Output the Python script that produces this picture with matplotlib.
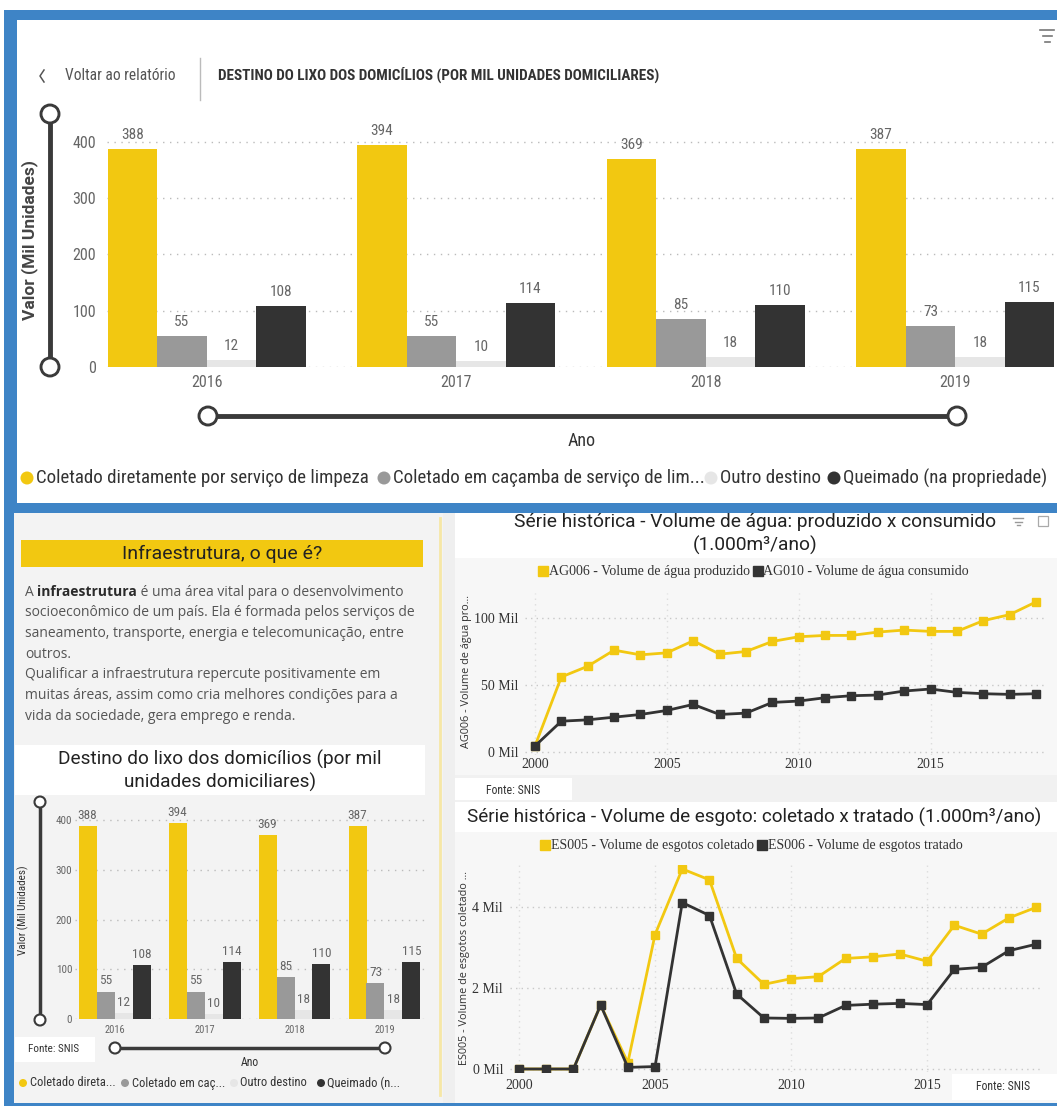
import matplotlib
matplotlib.use('Agg')
import matplotlib.pyplot as plt
from matplotlib import font_manager as fm
from matplotlib.patches import Rectangle, Circle
from matplotlib.ticker import FuncFormatter

# ---------------- data ----------------
bar_years = ['2016', '2017', '2018', '2019']
coletado_direto = [388, 394, 369, 387]
coletado_cacamba = [55, 55, 85, 73]
outro_destino = [12, 10, 18, 18]
queimado = [108, 114, 110, 115]
bar_names_full = ['Coletado diretamente por serviço de limpeza',
                  'Coletado em caçamba de serviço de lim...',
                  'Outro destino', 'Queimado (na propriedade)']
bar_names_short = ['Coletado direta...', 'Coletado em caç...',
                   'Outro destino', 'Queimado (n...']
bar_yticks = [0, 100, 200, 300, 400]

anos = list(range(2000, 2020))
ag006 = [4.5, 56, 64, 76, 72.5, 74, 83, 73, 75, 82.5, 86, 87, 87, 89.5, 91, 90, 90, 98, 102.5, 112]
ag010 = [4.5, 23, 24, 26, 28, 31, 35.5, 28, 29, 37, 38, 40.5, 42, 42.5, 45.5, 47, 44.5, 43.5, 43, 43.5]
es005 = [0, 0, 0, 1.58, 0.16, 3.32, 4.94, 4.67, 2.73, 2.09, 2.23, 2.28, 2.73, 2.77, 2.84, 2.66, 3.55, 3.33, 3.73, 3.99]
es006 = [0, 0, 0, 1.58, 0.04, 0.06, 4.11, 3.79, 1.85, 1.26, 1.25, 1.26, 1.57, 1.60, 1.62, 1.59, 2.46, 2.51, 2.92, 3.08]
line_xticks = [2000, 2005, 2010, 2015]
ag_yticks = [0, 50, 100]
es_yticks = [0, 2, 4]

# ---------------- style ----------------
YEL = '#F2C811'
GRY = '#999999'
LGT = '#E6E6E6'
DRK = '#333333'
BLUE = '#3E84C6'


def _weights(fam):
    ws = set()
    for f in fm.fontManager.ttflist:
        if f.name == fam and f.style == 'normal':
            w = f.weight
            if isinstance(w, str):
                w = {'bold': 700, 'normal': 400, 'regular': 400}.get(w, 400)
            ws.add(int(w))
    return ws


def pick_family(cands):
    for c in cands:
        ws = _weights(c)
        if any(w <= 500 for w in ws) and any(w >= 600 for w in ws):
            return c
    return 'DejaVu Sans'


COND = ['Roboto Condensed', 'Liberation Sans Narrow', 'Roboto', 'DejaVu Sans']
TITLE = ['Roboto', 'DejaVu Sans']
SEGOE_FAM = pick_family(['Noto Sans', 'Open Sans', 'Lato', 'Roboto', 'DejaVu Sans'])
SEGOE = [SEGOE_FAM, 'DejaVu Sans']
BOLDLAB = [pick_family(['Roboto', 'Open Sans', 'Noto Sans', 'DejaVu Sans']), 'DejaVu Sans']
SERIF = ['Liberation Serif', 'DejaVu Serif']
plt.rcParams['font.family'] = COND

W, H, DPI = 1057, 1106, 100
fig = plt.figure(figsize=(W / DPI, H / DPI), dpi=DPI)
fig.patch.set_facecolor('white')

bg = fig.add_axes([0, 0, 1, 1])
bg.set_xlim(0, W)
bg.set_ylim(H, 0)
bg.axis('off')


def rect(x0, y0, x1, y1, color, z=0):
    bg.add_patch(Rectangle((x0, y0), x1 - x0, y1 - y0, facecolor=color,
                           edgecolor='none', zorder=z))


def px_axes(x0, y0, x1, y1):
    a = fig.add_axes([x0 / W, 1 - y1 / H, (x1 - x0) / W, (y1 - y0) / H])
    a.set_facecolor('none')
    for s in a.spines.values():
        s.set_visible(False)
    return a


def slider(x0, y0, x1, y1, r, lw):
    bg.plot([x0, x1], [y0, y1], color='#3a3a3a', lw=lw, solid_capstyle='butt', zorder=3)
    for (x, y) in [(x0, y0), (x1, y1)]:
        bg.add_patch(Circle((x, y), r, facecolor='white', edgecolor='#3a3a3a',
                            lw=lw * 0.6, zorder=4))


# ---------------- frame ----------------
rect(4, 10, W, 20, BLUE)          # top band
rect(4, 10, 17, 503, BLUE)        # left strip top panel
rect(4, 503, W, 513, BLUE)        # middle band
rect(4, 513, 14, H, BLUE)         # left strip bottom
rect(4, 1103, W, H, BLUE)         # bottom band

# bottom panels backgrounds
rect(14, 513, 443, 1103, '#F3F3F3')
rect(443, 513, 455, 1103, '#EFEFEF')
rect(455, 513, W, 558, 'white')
rect(455, 558, W, 775, '#F7F7F7')
rect(455, 775, W, 802, '#F1F1F1')
rect(455, 778, 572, 800, 'white')
rect(455, 802, W, 832, 'white')
rect(455, 832, W, 1103, '#F7F7F7')
rect(952, 1074, W, 1100, 'white', z=1)
bg.plot([440, 440], [518, 1095], color='#F6E7A6', lw=2, zorder=2)

# ---------------- header of top panel ----------------
bg.plot([44, 40, 44], [70, 76, 82], color='#555555', lw=1.1, zorder=3)
bg.text(65, 76, 'Voltar ao relatório', fontsize=11.2, color='#555555', va='center', ha='left')
bg.plot([200, 200], [58, 100], color='#BBBBBB', lw=1, zorder=3)
bg.text(218, 75, 'DESTINO DO LIXO DOS DOMICÍLIOS (POR MIL UNIDADES DOMICILIARES)',
        fontsize=10.9, fontweight='bold', color='#333333', va='center', ha='left')
for (yy, hw) in [(30, 7), (36, 4.5), (42, 2.5)]:
    bg.plot([1047 - hw, 1047 + hw], [yy, yy], color='#777777', lw=1.2, zorder=3)

# ---------------- bar charts ----------------
series = [coletado_direto, coletado_cacamba, outro_destino, queimado]
colors = [YEL, GRY, LGT, DRK]


def bar_chart(ax, c0, sp, x0, x1, y0px, ytop, ppu, bw, lab_fs, lab_pad, tick_fs, xtick_fs,
              ypad, xpad):
    ax.set_xlim((x0 - c0) / sp, (x1 - c0) / sp)
    ax.set_ylim(0, (y0px - ytop) / ppu)
    idx = list(range(len(bar_years)))
    for i, (vals, col) in enumerate(zip(series, colors)):
        pos = [k + (i - 1.5) * bw for k in idx]
        bars = ax.bar(pos, vals, width=bw, color=col, zorder=3)
        ax.bar_label(bars, padding=lab_pad, fontsize=lab_fs, color='#666666')
    ax.set_yticks(bar_yticks)
    ax.set_xticks(idx)
    ax.set_xticklabels(bar_years)
    ax.tick_params(axis='y', length=0, pad=ypad, labelsize=tick_fs, labelcolor='#666666')
    ax.tick_params(axis='x', length=0, pad=xpad, labelsize=xtick_fs, labelcolor='#666666')
    ax.yaxis.grid(True, linestyle=(0, (1, 4)), color='#BBBBBB', lw=1)
    ax.set_axisbelow(True)


ax1 = px_axes(107, 122, 1057, 367)
bar_chart(ax1, 206.5, 249.6, 107, 1057, 367, 122, 0.5625, 49.5 / 249.6, 11, 5, 11.5, 11.5, 8, 6)

bg.text(30, 240, 'Valor (Mil Unidades)', rotation=90, family=BOLDLAB, fontsize=12.5,
        fontweight='bold', color='#444444', ha='center', va='center')
slider(50, 114, 50, 367, 9, 3.5)
slider(208, 416, 957, 416, 9, 3.5)
bg.text(582, 441, 'Ano', fontsize=13, color='#333333', ha='center', va='center')

leg_x = [(27, 36), (384, 393), (711, 720), (834, 843)]
for (cx, tx), col, name in zip(leg_x, colors, bar_names_full):
    bg.add_patch(Circle((cx, 478), 6.5, facecolor=col, edgecolor='none', zorder=3))
    bg.text(tx, 478, name, fontsize=13.6, color='#333333', ha='left', va='center')

# ---------------- bottom-left text ----------------
rect(21, 540, 423, 567, YEL, z=1)
bg.text(222, 554, 'Infraestrutura, o que é?', family=TITLE, fontsize=14, color='#222222',
        ha='center', va='center', zorder=3)

para_font = dict(family=SEGOE, fontsize=10, color='#555555')
t0 = bg.text(25, 592, 'A ', va='center', ha='left', **para_font)
t1 = bg.annotate('infraestrutura', xy=(1, 0), xycoords=t0, va='bottom', ha='left',
                 family=SEGOE, fontsize=10, color='#2A2A2A', fontweight='bold')
bg.annotate(' é uma área vital para o desenvolvimento', xy=(1, 0), xycoords=t1,
            va='bottom', ha='left', **para_font)
para_lines = ['socioeconômico de um país. Ela é formada pelos serviços de',
              'saneamento, transporte, energia e telecomunicação, entre',
              'outros.',
              'Qualificar a infraestrutura repercute positivamente em',
              'muitas áreas, assim como cria melhores condições para a',
              'vida da sociedade, gera emprego e renda.']
for k, ln in enumerate(para_lines):
    bg.text(25, 592 + 20.7 * (k + 1), ln, va='center', ha='left', **para_font)

# ---------------- bottom-left bar chart ----------------
rect(15, 745, 425, 795, 'white', z=1)
bg.text(220, 759, 'Destino do lixo dos domicílios (por mil', family=TITLE, fontsize=13.7,
        color='#222222', ha='center', va='center', zorder=3)
bg.text(220, 782, 'unidades domiciliares)', family=TITLE, fontsize=13.7, color='#222222',
        ha='center', va='center', zorder=3)

ax2 = px_axes(75, 805, 425, 1019)
bar_chart(ax2, 114.5, 90, 75, 425, 1019, 805, 0.4975, 0.2, 9.5, 3, 8, 7.5, 2, 4)

bg.text(23, 910, 'Valor (Mil Unidades)', rotation=90, fontsize=8, color='#333333',
        ha='center', va='center')
slider(40, 802, 40, 1020, 5.5, 2.5)
slider(115, 1048, 385, 1048, 5.5, 2.5)
rect(15, 1037, 95, 1062, 'white', z=1)
bg.text(28, 1049, 'Fonte: SNIS', fontsize=8, color='#333333', ha='left', va='center', zorder=3)
bg.text(250, 1063, 'Ano', fontsize=8.5, color='#333333', ha='center', va='center')
leg2 = [(23, 30), (125, 132), (234, 240), (321, 327)]
for (cx, tx), col, name in zip(leg2, colors, bar_names_short):
    bg.add_patch(Circle((cx, 1083), 4, facecolor=col, edgecolor='none', zorder=3))
    bg.text(tx, 1083, name, fontsize=9, color='#333333', ha='left', va='center')


# ---------------- line charts ----------------
def line_chart(ax, y1, y2, lab1, lab2, yticks, xl, yl, leg_xy):
    ax.set_xlim(*xl)
    ax.set_ylim(*yl)
    ax.plot(anos, y1, color=YEL, lw=2, marker='s', ms=5.5, zorder=3, label=lab1)
    ax.plot(anos, y2, color=DRK, lw=2, marker='s', ms=5.5, zorder=4, label=lab2)
    ax.set_xticks(line_xticks)
    ax.set_yticks(yticks)
    ax.yaxis.set_major_formatter(FuncFormatter(lambda v, p: f'{v:.0f} Mil'))
    for lab in ax.get_xticklabels() + ax.get_yticklabels():
        lab.set_family(SERIF)
    ax.tick_params(length=0, labelsize=10, labelcolor='#333333')
    ax.yaxis.grid(True, linestyle=(0, (1, 3)), color='#C8C8C8', lw=1)
    ax.xaxis.grid(True, linestyle=(0, (1, 3)), color='#DDDDDD', lw=1)
    ax.set_axisbelow(True)
    leg = ax.legend(loc='center', bbox_to_anchor=(leg_xy[0] / W, 1 - leg_xy[1] / H),
                    bbox_transform=fig.transFigure, ncol=2, frameon=False,
                    handlelength=0.6, handletextpad=0.1, columnspacing=0.3,
                    prop=dict(family=SERIF, size=10))
    for h in leg.legend_handles:
        h.set_linestyle('none')
        h.set_marker('s')
        h.set_markersize(6.5)
    for t in leg.get_texts():
        t.set_color('#333333')


# chart 1 : water
ax3 = px_axes(525, 593, 1047, 755)
x0_1, x1_1 = 535, 1036
x_ppu1 = (x1_1 - x0_1) / 19
y_ppu1 = (752 - 618) / 100
line_chart(ax3, ag006, ag010, 'AG006 - Volume de água produzido',
           'AG010 - Volume de água consumido', ag_yticks,
           (2000 - (x0_1 - 525) / x_ppu1, 2000 + (1047 - x0_1) / x_ppu1),
           (-(755 - 752) / y_ppu1, (752 - 593) / y_ppu1), (754, 572))
ax3.tick_params(axis='x', pad=2)
ax3.tick_params(axis='y', pad=5)
bg.text(755, 522, 'Série histórica - Volume de água: produzido x consumido', family=TITLE,
        fontsize=13.8, color='#222222', ha='center', va='center', zorder=3)
bg.text(755, 545, '(1.000m³/ano)', family=TITLE, fontsize=13.8, color='#222222',
        ha='center', va='center', zorder=3)
bg.text(466, 672, 'AG006 - Volume de água pro...', rotation=90, family=SEGOE, fontsize=7.8,
        color='#333333', ha='center', va='center')
bg.text(513, 790, 'Fonte: SNIS', fontsize=8.5, color='#333333', ha='center', va='center', zorder=3)
# small icons
for (yy, hw) in [(518, 5), (521.5, 3.5), (525, 1.5)]:
    bg.plot([1018 - hw, 1018 + hw], [yy, yy], color='#999999', lw=1, zorder=3)
bg.add_patch(Rectangle((1038, 516), 10, 10, facecolor='none', edgecolor='#aaaaaa', lw=0.9, zorder=3))

# chart 2 : sewage
ax4 = px_axes(510, 865, 1042, 1072)
x0_2, x1_2 = 519, 1036
x_ppu2 = (x1_2 - x0_2) / 19
y_ppu2 = (1069 - 907) / 4
line_chart(ax4, es005, es006, 'ES005 - Volume de esgotos coletado',
           'ES006 - Volume de esgotos tratado', es_yticks,
           (2000 - (x0_2 - 510) / x_ppu2, 2000 + (1042 - x0_2) / x_ppu2),
           (-(1072 - 1069) / y_ppu2, (1069 - 865) / y_ppu2), (752, 846))
ax4.tick_params(axis='x', pad=5)
ax4.tick_params(axis='y', pad=5)
bg.text(754, 817, 'Série histórica - Volume de esgoto: coletado x tratado (1.000m³/ano)',
        family=TITLE, fontsize=13.6, color='#222222', ha='center', va='center', zorder=3)
bg.text(465, 968, 'ES005 - Volume de esgotos coletado ...', rotation=90, family=SEGOE,
        fontsize=7.8, color='#333333', ha='center', va='center')
bg.text(1003, 1086, 'Fonte: SNIS', fontsize=8.5, color='#333333', ha='center', va='center',
        zorder=3)

fig.savefig('out.png', dpi=DPI, facecolor='white')
